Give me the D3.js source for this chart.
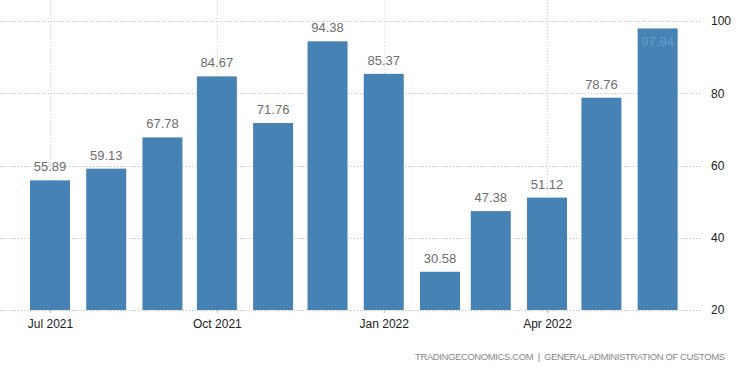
<!DOCTYPE html>
<html>
<head>
<meta charset="utf-8">
<script src="https://cdn.jsdelivr.net/npm/d3@7"></script>
<style>
  body { margin: 0; background: #fff; }
  svg { display: block; font-family: "DejaVu Sans", sans-serif; }
</style>
</head>
<body>
<svg></svg>
<script>
const months = ['2021-07', '2021-08', '2021-09', '2021-10', '2021-11', '2021-12',
                '2022-01', '2022-02', '2022-03', '2022-04', '2022-05', '2022-06']
const values = [55.89, 59.13, 67.78, 84.67, 71.76, 94.38, 85.37, 30.58, 47.38, 51.12, 78.76, 97.94]
const xTicks = ['2021-07', '2021-10', '2022-01', '2022-04']
const yTicks = [20, 40, 60, 80, 100]
const source = 'TRADINGECONOMICS.COM  |  GENERAL ADMINISTRATION OF CUSTOMS'

const width = 750
const height = 373
const barWidth = 40
const parse = d3.timeParse('%Y-%m')

const data = months.map((m, i) => ({ date: parse(m), value: values[i] }))

const svg = d3.select('svg')
              .attr('width', width)
              .attr('height', height)

const xScale = d3.scaleTime()
                 .domain([parse('2021-07'), parse('2022-04')])
                 .range([50, 547])
const yScale = d3.scaleLinear()
                 .domain([20, 100])
                 .range([310, 21])

// grid
svg.append('g')
   .selectAll('line')
   .data(yTicks)
   .join('line')
   .attr('x1', 0)
   .attr('x2', 702)
   .attr('y1', d => Math.round(yScale(d)) + 0.5)
   .attr('y2', d => Math.round(yScale(d)) + 0.5)
   .attr('stroke', '#c8c8c8')
   .attr('stroke-dasharray', '1,2')

svg.append('g')
   .selectAll('line')
   .data(xTicks.map(parse))
   .join('line')
   .attr('x1', d => Math.round(xScale(d)) + 0.5)
   .attr('x2', d => Math.round(xScale(d)) + 0.5)
   .attr('y1', 0)
   .attr('y2', 310)
   .attr('stroke', '#d8d8d8')
   .attr('stroke-dasharray', '1,2')

// bars
svg.append('g')
   .selectAll('rect')
   .data(data)
   .join('rect')
   .attr('x', d => xScale(d.date) - barWidth / 2)
   .attr('width', barWidth)
   .attr('y', d => yScale(d.value))
   .attr('height', d => yScale(20) - yScale(d.value))
   .attr('fill', '#4682b4')

// value labels
svg.append('g')
   .selectAll('text')
   .data(data)
   .join('text')
   .attr('x', d => xScale(d.date))
   .attr('y', d => d.value > 95 ? yScale(d.value) + 18 : yScale(d.value) - 9)
   .attr('text-anchor', 'middle')
   .attr('fill', d => d.value > 95 ? '#6a9ac6' : '#6e6e6e')
   .style('font-family', '"Liberation Sans", sans-serif')
   .style('font-size', '13px')
   .text(d => d.value.toFixed(2))

// x axis
const xAxis = d3.axisBottom(xScale)
                .tickValues(xTicks.map(parse))
                .tickFormat(d3.timeFormat('%b %Y'))
                .tickSize(3)
                .tickPadding(6)

const gx = svg.append('g')
              .attr('transform', 'translate(0, 310)')
              .call(xAxis)
gx.select('.domain').remove()
gx.selectAll('line').attr('stroke', '#bbb')
gx.selectAll('text').attr('fill', '#222').style('font-size', '12px')

// y axis
const yAxis = d3.axisRight(yScale)
                .tickValues(yTicks)
                .tickSize(0)
                .tickPadding(0)

const gy = svg.append('g')
              .attr('transform', 'translate(711, 0)')
              .call(yAxis)
gy.select('.domain').remove()
gy.selectAll('text').attr('fill', '#222').style('font-size', '12px')

svg.append('text')
   .attr('x', 415)
   .attr('y', 360)
   .attr('fill', '#888')
   .attr('textLength', 310)
   .attr('lengthAdjust', 'spacing')
   .style('font-family', '"Liberation Sans", sans-serif')
   .style('font-size', '9.5px')
   .style('white-space', 'pre')
   .text(source)
</script>
</body>
</html>
